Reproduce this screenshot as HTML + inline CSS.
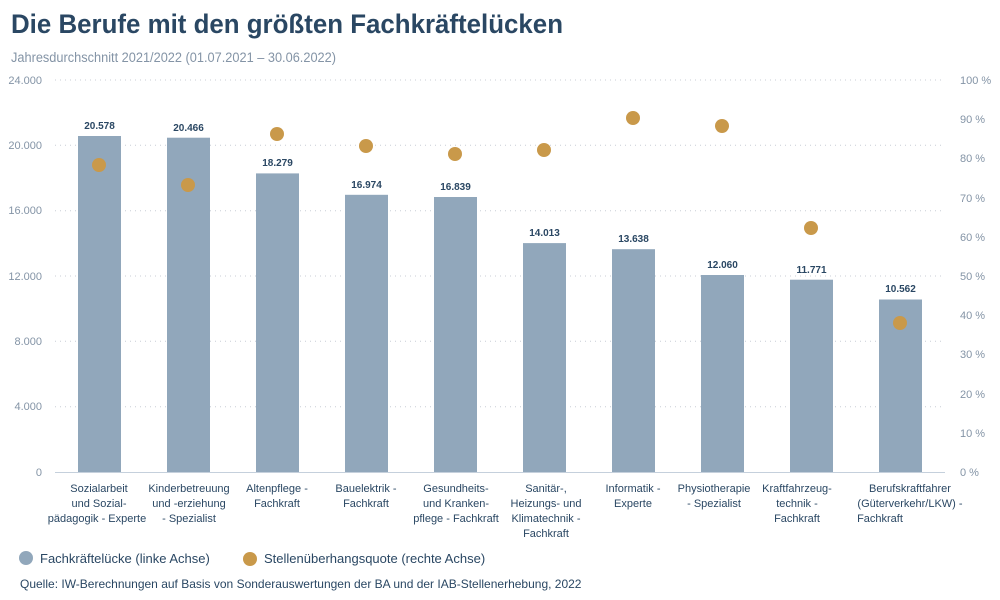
<!DOCTYPE html>
<html><head><meta charset="utf-8"><style>
body{margin:0;background:#fff;}
svg{display:block;font-family:"Liberation Sans",sans-serif;}
</style></head><body>
<svg width="1000" height="600" viewBox="0 0 1000 600">
<text x="11" y="33" font-size="27" font-weight="bold" fill="#2a4763" textLength="552" lengthAdjust="spacingAndGlyphs">Die Berufe mit den größten Fachkräftelücken</text>
<text x="11" y="62" font-size="13.5" fill="#8494a6" textLength="325" lengthAdjust="spacingAndGlyphs">Jahresdurchschnitt 2021/2022 (01.07.2021 – 30.06.2022)</text>
<g stroke="#c8ced6" stroke-dasharray="1,4" stroke-width="1">
<line x1="55" x2="945" y1="80" y2="80"/><line x1="55" x2="945" y1="145.3" y2="145.3"/>
<line x1="55" x2="945" y1="210.7" y2="210.7"/><line x1="55" x2="945" y1="276" y2="276"/>
<line x1="55" x2="945" y1="341.3" y2="341.3"/><line x1="55" x2="945" y1="406.7" y2="406.7"/>
</g>
<line x1="55" x2="945" y1="472.5" y2="472.5" stroke="#c5d0dc" stroke-width="1"/>
<g font-size="11" fill="#8494a6" text-anchor="end">
<text x="42" y="84">24.000</text><text x="42" y="149">20.000</text><text x="42" y="214">16.000</text>
<text x="42" y="280">12.000</text><text x="42" y="345">8.000</text><text x="42" y="410">4.000</text><text x="42" y="476">0</text>
</g>
<g font-size="11" fill="#8494a6">
<text x="960" y="84">100 %</text><text x="960" y="123">90 %</text><text x="960" y="162">80 %</text>
<text x="960" y="202">70 %</text><text x="960" y="241">60 %</text><text x="960" y="280">50 %</text>
<text x="960" y="319">40 %</text><text x="960" y="358">30 %</text><text x="960" y="398">20 %</text>
<text x="960" y="437">10 %</text><text x="960" y="476">0 %</text>
</g>
<g fill="#91a7bb">
<rect x="78" y="136" width="43" height="336"/>
<rect x="167" y="137.7" width="43" height="334.3"/>
<rect x="256" y="173.4" width="43" height="298.6"/>
<rect x="345" y="194.8" width="43" height="277.2"/>
<rect x="434" y="197" width="43" height="275"/>
<rect x="523" y="243.1" width="43" height="228.9"/>
<rect x="612" y="249.2" width="43" height="222.8"/>
<rect x="701" y="275" width="43" height="197"/>
<rect x="790" y="279.7" width="43" height="192.3"/>
<rect x="879" y="299.5" width="43" height="172.5"/>
</g>
<g font-size="10" font-weight="bold" fill="#2a4763" text-anchor="middle">
<text x="99.5" y="129">20.578</text><text x="188.5" y="131">20.466</text><text x="277.5" y="166">18.279</text>
<text x="366.5" y="188">16.974</text><text x="455.5" y="190">16.839</text><text x="544.5" y="236">14.013</text>
<text x="633.5" y="242">13.638</text><text x="722.5" y="268">12.060</text><text x="811.5" y="273">11.771</text>
<text x="900.5" y="292">10.562</text>
</g>
<g fill="#c9994a">
<circle cx="99" cy="165" r="7"/><circle cx="188" cy="185" r="7"/><circle cx="277" cy="134" r="7"/>
<circle cx="366" cy="146" r="7"/><circle cx="455" cy="154" r="7"/><circle cx="544" cy="150" r="7"/>
<circle cx="633" cy="118" r="7"/><circle cx="722" cy="126" r="7"/><circle cx="811" cy="228" r="7"/>
<circle cx="900" cy="323" r="7"/>
</g>
<g font-size="11" fill="#2a4763" text-anchor="middle">
<text x="99"><tspan x="99" y="492">Sozialarbeit</tspan><tspan x="99" y="507">und Sozial-</tspan><tspan x="97" y="522">pädagogik - Experte</tspan></text>
<text><tspan x="189" y="492">Kinderbetreuung</tspan><tspan x="189" y="507">und -erziehung</tspan><tspan x="189" y="522">- Spezialist</tspan></text>
<text><tspan x="277" y="492">Altenpflege -</tspan><tspan x="277" y="507">Fachkraft</tspan></text>
<text><tspan x="366" y="492">Bauelektrik -</tspan><tspan x="366" y="507">Fachkraft</tspan></text>
<text><tspan x="456" y="492">Gesundheits-</tspan><tspan x="456" y="507">und Kranken-</tspan><tspan x="456" y="522">pflege - Fachkraft</tspan></text>
<text><tspan x="546" y="492">Sanitär-,</tspan><tspan x="546" y="507">Heizungs- und</tspan><tspan x="546" y="522">Klimatechnik -</tspan><tspan x="546" y="537">Fachkraft</tspan></text>
<text><tspan x="633" y="492">Informatik -</tspan><tspan x="633" y="507">Experte</tspan></text>
<text><tspan x="714" y="492">Physiotherapie</tspan><tspan x="714" y="507">- Spezialist</tspan></text>
<text><tspan x="797" y="492">Kraftfahrzeug-</tspan><tspan x="797" y="507">technik -</tspan><tspan x="797" y="522">Fachkraft</tspan></text>
<text><tspan x="910" y="492">Berufskraftfahrer</tspan><tspan x="910" y="507">(Güterverkehr/LKW) -</tspan><tspan x="880" y="522">Fachkraft</tspan></text>
</g>
<circle cx="26" cy="558" r="7" fill="#91a7bb"/>
<text x="40" y="563" font-size="13" fill="#2a4763">Fachkräftelücke (linke Achse)</text>
<circle cx="250" cy="559" r="7" fill="#c9994a"/>
<text x="264" y="563" font-size="13" fill="#2a4763">Stellenüberhangsquote (rechte Achse)</text>
<text x="20" y="588" font-size="12" fill="#2a4763">Quelle: IW-Berechnungen auf Basis von Sonderauswertungen der BA und der IAB-Stellenerhebung, 2022</text>
</svg>
</body></html>
